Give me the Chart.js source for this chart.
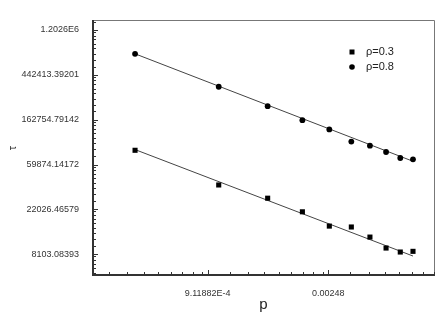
<!DOCTYPE html>
<html>
<head>
<meta charset="utf-8">
<script src="https://cdn.jsdelivr.net/npm/chart.js@4"></script>
<style>
  html, body { margin: 0; padding: 0; background: #fff; }
  #chart { display: block; }
</style>
</head>
<body>
<canvas id="chart" width="446" height="327"></canvas>
<script>
// values (log-log, natural-log tick labels)
const pValues = [0.0005, 0.001, 0.0015, 0.002, 0.0025, 0.003, 0.0035, 0.004, 0.0045, 0.005];
const tauRho03 = [82300, 38000, 28300, 20900, 15200, 14900, 11900, 9320, 8530, 8660];
const tauRho08 = [706000, 339000, 220000, 161000, 131000, 100000, 91200, 79200, 69300, 67300];

// fitted straight lines (end points)
const fitP = [0.0005, 0.005];
const fitRho03 = [83600, 7800];
const fitRho08 = [706000, 64400];

const seriesLabels = ['\u03c1=0.3', '\u03c1=0.8'];
const xTickLabels = ['9.11882E-4', '0.00248'];
const yTickLabels = ['8103.08393', '22026.46579', '59874.14172', '162754.79142', '442413.39201', '1.2026E6'];
const minorSteps = [1.2, 1.4, 1.6, 1.8, 2.0, 2.2, 2.4, 2.6];

const xRange = [0.00035, 0.006];
const yRange = [5000, 1.5e6];

const toPoints = (xs, ys) => xs.map((x, i) => ({ x: x, y: ys[i] }));

function minorValues(min, max) {
  const out = [];
  for (let k = Math.floor(Math.log(min)); k <= Math.ceil(Math.log(max)); k++) {
    const base = Math.exp(k);
    minorSteps.forEach(m => {
      const v = base * m;
      if (v > min && v < max) out.push(v);
    });
  }
  return out;
}

// frame, inward ticks and the legend inside the plot
const decor = {
  id: 'decor',
  afterDatasetsDraw(chart) {
    const { ctx, chartArea: a, scales } = chart;
    ctx.save();
    ctx.strokeStyle = '#777';
    ctx.lineWidth = 1;
    ctx.beginPath();
    ctx.moveTo(a.left, a.top + 0.5);
    ctx.lineTo(a.right - 0.5, a.top + 0.5);
    ctx.lineTo(a.right - 0.5, a.bottom);
    ctx.stroke();

    ctx.strokeStyle = '#333';
    ctx.lineWidth = 2;
    ctx.beginPath();
    ctx.moveTo(a.left + 1, a.top);
    ctx.lineTo(a.left + 1, a.bottom - 1);
    ctx.lineTo(a.right, a.bottom - 1);
    ctx.stroke();

    ctx.lineWidth = 1;
    const xs = scales.x, ys = scales.y;
    xTickLabels.map(Number).forEach(v => {
      const px = Math.round(xs.getPixelForValue(v)) + 0.5;
      ctx.beginPath(); ctx.moveTo(px, a.bottom); ctx.lineTo(px, a.bottom - 6); ctx.stroke();
    });
    minorValues(xRange[0], xRange[1]).forEach(v => {
      const px = Math.round(xs.getPixelForValue(v)) + 0.5;
      ctx.beginPath(); ctx.moveTo(px, a.bottom); ctx.lineTo(px, a.bottom - 4); ctx.stroke();
    });
    yTickLabels.map(Number).forEach(v => {
      const py = Math.round(ys.getPixelForValue(v)) + 0.5;
      ctx.beginPath(); ctx.moveTo(a.left, py); ctx.lineTo(a.left + 6, py); ctx.stroke();
    });
    minorValues(yRange[0], yRange[1]).forEach(v => {
      const py = Math.round(ys.getPixelForValue(v)) + 0.5;
      ctx.beginPath(); ctx.moveTo(a.left, py); ctx.lineTo(a.left + 4, py); ctx.stroke();
    });

    // legend
    const lx = a.right - 83, ly = a.top + 32;
    ctx.fillStyle = '#000';
    ctx.fillRect(lx - 2.5, ly - 2.5, 5, 5);
    ctx.beginPath(); ctx.arc(lx, ly + 15, 2.8, 0, Math.PI * 2); ctx.fill();
    ctx.fillStyle = '#222';
    ctx.font = '11px "Liberation Sans", Arial, sans-serif';
    ctx.textBaseline = 'middle';
    ctx.fillText(seriesLabels[0], lx + 14, ly);
    ctx.fillText(seriesLabels[1], lx + 14, ly + 15);
    ctx.restore();
  }
};

Chart.defaults.font.family = '"Liberation Sans", Arial, sans-serif';

new Chart(document.getElementById('chart'), {
  type: 'scatter',
  data: {
    datasets: [
      {
        label: seriesLabels[0],
        data: toPoints(pValues, tauRho03),
        pointStyle: 'rect',
        pointRadius: 3.6,
        backgroundColor: '#000',
        borderColor: '#000',
        borderWidth: 0,
        showLine: false
      },
      {
        label: seriesLabels[1],
        data: toPoints(pValues, tauRho08),
        pointStyle: 'circle',
        pointRadius: 2.9,
        backgroundColor: '#000',
        borderColor: '#000',
        borderWidth: 0,
        showLine: false
      },
      {
        label: 'fit 0.3',
        data: toPoints(fitP, fitRho03),
        showLine: true,
        pointRadius: 0,
        borderColor: '#444',
        borderWidth: 1
      },
      {
        label: 'fit 0.8',
        data: toPoints(fitP, fitRho08),
        showLine: true,
        pointRadius: 0,
        borderColor: '#444',
        borderWidth: 1
      }
    ]
  },
  options: {
    responsive: false,
    animation: false,
    devicePixelRatio: 1,
    layout: { padding: { left: 0, top: 20, right: 11, bottom: 0 } },
    plugins: {
      legend: { display: false },
      tooltip: { enabled: false }
    },
    scales: {
      x: {
        type: 'logarithmic',
        min: xRange[0],
        max: xRange[1],
        afterBuildTicks: s => { s.ticks = xTickLabels.map(l => ({ value: Number(l) })); },
        afterFit: s => { s.height = 51; },
        grid: { display: false },
        border: { display: false },
        ticks: {
          autoSkip: false,
          maxRotation: 0,
          padding: 4,
          color: '#333',
          font: { size: 9 },
          callback: (v, i) => xTickLabels[i]
        },
        title: {
          display: true,
          text: 'p',
          color: '#222',
          font: { size: 15 },
          padding: { top: 0, bottom: 13 }
        }
      },
      y: {
        type: 'logarithmic',
        min: yRange[0],
        max: yRange[1],
        afterBuildTicks: s => { s.ticks = yTickLabels.map(l => ({ value: Number(l) })); },
        afterFit: s => { s.width = 92; },
        grid: { display: false },
        border: { display: false },
        ticks: {
          autoSkip: false,
          padding: 5,
          color: '#333',
          font: { size: 9 },
          callback: (v, i) => yTickLabels[i]
        },
        title: {
          display: true,
          text: '\u03c4',
          color: '#222',
          font: { size: 11 },
          padding: { top: 6, bottom: 0 }
        }
      }
    }
  },
  plugins: [decor]
});
</script>
</body>
</html>
